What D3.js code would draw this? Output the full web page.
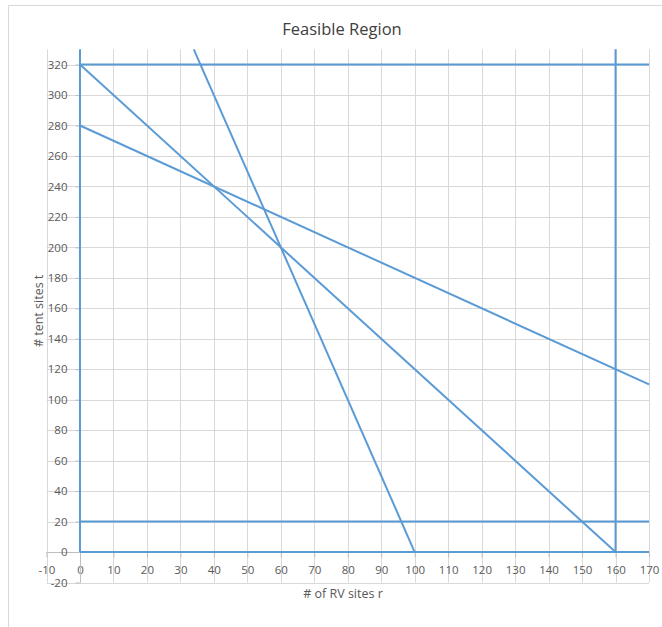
<!DOCTYPE html>
<html>
<head>
<meta charset="utf-8">
<script src="https://cdn.jsdelivr.net/npm/d3@7"></script>
<style>
  html, body { margin: 0; padding: 0; background: #fff; }
  svg { display: block; }
  text { font-family: "Open Sans", "Noto Sans", sans-serif; }
</style>
</head>
<body>
<svg id="chart" width="662" height="627"></svg>
<script>
// Constraint lines of the campground problem (r = RV sites, t = tent sites),
// each given by its two end points [r, t].
const rvMinLine   = [[0, 0],   [0, 330]];    // r >= 0
const rvMaxLine   = [[160, 0], [160, 330]];  // r <= 160
const tentMaxLine = [[0, 320], [170, 320]];  // t <= 320
const tentMinLine = [[0, 20],  [170, 20]];   // t >= 20
const tentZeroLine = [[0, 0],  [170, 0]];    // t >= 0
const landLine    = [[0, 320], [160, 0]];    // 2r + t <= 320
const costLine    = [[0, 280], [170, 110]];  // r + t <= 280
const laborLine   = [[34, 330], [100, 0]];   // 5r + t <= 500

const series = [rvMinLine, rvMaxLine, tentMaxLine, tentMinLine, tentZeroLine,
                landLine, costLine, laborLine];

// Axis ranges and tick labels
const xDomain = [-10, 170];
const yDomain = [-20, 330];
const xTicks = [-10, 0, 10, 20, 30, 40, 50, 60, 70, 80, 90, 100, 110, 120, 130, 140, 150, 160, 170];
const yTicks = [-20, 0, 20, 40, 60, 80, 100, 120, 140, 160, 180, 200, 220, 240, 260, 280, 300, 320];

const titleText = "Feasible Region";
const xTitle = "# of RV sites r";
const yTitle = "# tent sites t";

const svg = d3.select("#chart");
const plot = { left: 46.5, right: 649, top: 49.3, bottom: 582.5 };

const x = d3.scaleLinear().domain(xDomain).range([plot.left, plot.right]);
const y = d3.scaleLinear().domain(yDomain).range([plot.bottom, plot.top]);

// Chart frame
svg.append("rect")
  .attr("x", 8.5).attr("y", 5.5)
  .attr("width", 700).attr("height", 700)
  .attr("fill", "#fff").attr("stroke", "#d9d9d9").attr("stroke-width", 1);

// Title
svg.append("text")
  .attr("x", 342).attr("y", 35)
  .attr("text-anchor", "middle")
  .attr("font-size", 16.5)
  .attr("fill", "#404040")
  .text(titleText);

// Gridlines
const grid = svg.append("g").attr("stroke", "#d9d9d9").attr("stroke-width", 1);
grid.selectAll("line.v").data(xTicks).join("line").attr("class", "v")
  .attr("x1", d => Math.round(x(d)) + 0.5).attr("x2", d => Math.round(x(d)) + 0.5)
  .attr("y1", plot.top).attr("y2", plot.bottom);
grid.selectAll("line.h").data(yTicks).join("line").attr("class", "h")
  .attr("x1", plot.left).attr("x2", plot.right)
  .attr("y1", d => Math.round(y(d)) + 0.5).attr("y2", d => Math.round(y(d)) + 0.5);

// Axes crossing at the origin (plain hyphen for negatives)
const fmt = d => String(d);
const xAxis = d3.axisBottom(x).tickValues(xTicks).tickSize(5).tickPadding(8).tickFormat(fmt);
const yAxis = d3.axisLeft(y).tickValues(yTicks).tickSize(5).tickPadding(8).tickFormat(fmt);

const gx = svg.append("g").attr("transform", `translate(0,${Math.round(y(0)) + 0.5})`).call(xAxis);
const gy = svg.append("g").attr("transform", `translate(${Math.round(x(0)) + 0.5},0)`).call(yAxis);

[gx, gy].forEach(g => {
  g.select(".domain").attr("stroke", "#bfbfbf").attr("stroke-width", 1);
  g.selectAll(".tick line").attr("stroke", "#bfbfbf");
  g.selectAll(".tick text")
    .attr("fill", "#595959")
    .attr("font-size", 11.5)
    .attr("font-family", "'Open Sans', 'Noto Sans', sans-serif");
});
gx.select(".domain").attr("d", `M${plot.left},0H${plot.right}`);
gy.select(".domain").attr("d", `M0,${plot.bottom}V${plot.top}`);

// Axis titles
svg.append("text")
  .attr("x", 343).attr("y", 598)
  .attr("text-anchor", "middle")
  .attr("font-size", 12.5)
  .attr("fill", "#595959")
  .text(xTitle);

svg.append("text")
  .attr("transform", `translate(43,${(plot.top + plot.bottom) / 2 - 5}) rotate(-90)`)
  .attr("text-anchor", "middle")
  .attr("font-size", 12.5)
  .attr("fill", "#595959")
  .text(yTitle);

// Constraint lines
const line = d3.line().x(d => x(d[0])).y(d => y(d[1]));
svg.append("g")
  .selectAll("path")
  .data(series)
  .join("path")
  .attr("d", line)
  .attr("fill", "none")
  .attr("stroke", "#5b9bd5")
  .attr("stroke-width", 2)
  .attr("stroke-linecap", "butt");
</script>
</body>
</html>
